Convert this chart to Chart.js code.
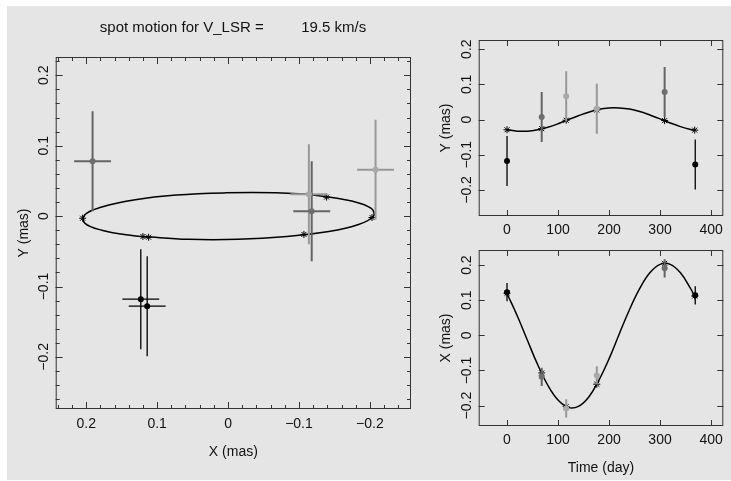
<!DOCTYPE html>
<html>
<head>
<meta charset="utf-8">
<script src="https://cdn.jsdelivr.net/npm/chart.js@4.4.1/dist/chart.umd.min.js"></script>
<style>
  html, body { margin: 0; padding: 0; background: #fff; }
  #sheet { position: absolute; left: 7px; top: 6px; width: 724px; height: 474px; background: #e5e5e5; }
  canvas { position: absolute; }
</style>
</head>
<body>
<div id="sheet"></div>
<canvas id="orbit" style="left:7px;top:6px" width="452" height="474"></canvas>
<canvas id="ytime" style="left:420px;top:6px" width="311" height="234"></canvas>
<canvas id="xtime" style="left:420px;top:240px" width="311" height="240"></canvas>
<script>
// observed spot positions (mas) and epochs (day)
const obsDay = [0, 68, 116, 176, 309, 369];
const obsX = [0.123, -0.118, -0.208, -0.114, 0.191, 0.114];
const obsY = [-0.118, 0.007, 0.066, 0.031, 0.078, -0.128];
const obsErrX = [0.026, 0.026, 0.026, 0.026, 0.026, 0.026];
const obsErrY = [0.071, 0.071, 0.071, 0.071, 0.071, 0.071];

// model positions at the epochs (asterisks)
const modelDay = [0, 68, 116, 176, 309, 368];
const modelX = [0.120, -0.107, -0.203, -0.139, 0.205, 0.112];
const modelY = [-0.029, -0.026, -0.002, 0.027, -0.003, -0.030];

// model track
const curveDay = [0, 20, 40, 60, 80, 100, 120, 140, 160, 180, 200, 220, 240, 260, 280, 300, 320, 340, 360, 368];
const curveX = [0.119, 0.056, -0.014, -0.083, -0.142, -0.184, -0.205, -0.202, -0.176, -0.128, -0.067, 0.004, 0.073, 0.133, 0.178, 0.202, 0.202, 0.178, 0.133, 0.111];
const curveY = [-0.029, -0.033, -0.033, -0.029, -0.022, -0.012, 0.000, 0.011, 0.021, 0.029, 0.033, 0.033, 0.030, 0.023, 0.013, 0.002, -0.010, -0.020, -0.028, -0.030];

const posTicks = [-0.2, -0.1, 0, 0.1, 0.2];
const dayTicks = [0, 100, 200, 300, 400];

// grey level per epoch: dots and their error bars
const dotShade = ['#000000', '#6e6e6e', '#a8a8a8', '#a8a8a8', '#6e6e6e', '#000000'];
const barShade = ['#000000', '#646464', '#989898', '#989898', '#646464', '#000000'];
const barWidth = [1.3, 2, 2, 2, 2, 1.3];

const ink = '#111';
const face = { family: 'Liberation Sans', size: 14 };
const fmt = v => v === 0 ? '0' : (v < 0 ? '\u2212' : '') + Math.abs(v).toFixed(1);
const pairs = (xs, ys) => xs.map((x, i) => ({ x, y: ys[i] }));

// box with inward tick marks on all four sides
const frame = {
  id: 'frame',
  afterDatasetsDraw(chart, args, o) {
    const { ctx, chartArea: a, scales } = chart;
    ctx.save();
    ctx.strokeStyle = '#333';
    ctx.lineWidth = 1;
    ctx.strokeRect(a.left + 0.5, a.top + 0.5, a.width - 1, a.height - 1);
    ctx.beginPath();
    const marks = (scale, step, len) => {
      if (!step) return;
      const lo = Math.min(scale.min, scale.max), hi = Math.max(scale.min, scale.max);
      for (let k = Math.ceil(lo / step - 1e-9); k * step <= hi + 1e-9; k++) {
        const p = Math.round(scale.getPixelForValue(k * step)) + 0.5;
        if (scale.isHorizontal()) {
          ctx.moveTo(p, a.bottom); ctx.lineTo(p, a.bottom - len);
          ctx.moveTo(p, a.top); ctx.lineTo(p, a.top + len);
        } else {
          ctx.moveTo(a.left, p); ctx.lineTo(a.left + len, p);
          ctx.moveTo(a.right, p); ctx.lineTo(a.right - len, p);
        }
      }
    };
    marks(scales.x, o.xMajor, o.majorLen);
    marks(scales.x, o.xMinor, o.minorLen);
    marks(scales.y, o.yMajor, o.majorLen);
    marks(scales.y, o.yMinor, o.minorLen);
    ctx.stroke();
    ctx.restore();
  }
};

function seg(data, color, width) {
  return { data, showLine: true, borderColor: color, borderWidth: width, pointRadius: 0 };
}

function bars(xs, ys, ex, ey) {
  const sets = [];
  xs.forEach((x, i) => {
    const c = barShade[i], w = barWidth[i];
    if (ey) sets.push(seg([{ x, y: ys[i] - ey[i] }, { x, y: ys[i] + ey[i] }], c, w));
    if (ex) sets.push(seg([{ x: x - ex[i], y: ys[i] }, { x: x + ex[i], y: ys[i] }], c, w));
  });
  return sets;
}

function datasets(xs, ys, ex, ey, mx, my, cx, cy) {
  return [
    { data: pairs(xs, ys), pointRadius: 3, pointBackgroundColor: dotShade, pointBorderWidth: 0 },
    ...bars(xs, ys, ex, ey),
    { data: pairs(mx, my), pointStyle: 'star', pointRadius: 3.5, pointBorderColor: '#000', pointBorderWidth: 1 },
    { data: pairs(cx, cy), showLine: true, tension: 0.4, borderColor: '#000', borderWidth: 1.5, pointRadius: 0 }
  ];
}

function xAxis(min, max, ticks, opts) {
  return {
    type: 'linear', position: 'bottom', min, max, reverse: !!opts.reverse,
    grid: { display: false }, border: { display: false },
    afterBuildTicks: s => { s.ticks = ticks.map(v => ({ value: v })); },
    afterFit: s => { s.height = opts.height; },
    ticks: { color: ink, font: face, padding: opts.pad, autoSkip: false, maxRotation: 0, callback: opts.fmt },
    title: { display: !!opts.title, text: opts.title, color: ink, font: face, padding: { top: 0, bottom: opts.titlePad } }
  };
}

function yAxis(min, max, ticks, opts) {
  return {
    type: 'linear', position: 'left', min, max,
    grid: { display: false }, border: { display: false },
    afterBuildTicks: s => { s.ticks = ticks.map(v => ({ value: v })); },
    afterFit: s => { s.width = opts.width; },
    ticks: { color: ink, font: face, padding: -10, autoSkip: false, minRotation: 90, maxRotation: 90, crossAlign: 'center', callback: fmt },
    title: { display: true, text: opts.title, color: ink, font: face, padding: { top: opts.titlePad, bottom: 0 } }
  };
}

// empty right-hand axis that only reserves the margin, so the title centres on the box
const spacer = width => ({
  type: 'linear', position: 'right', display: true,
  grid: { display: false }, border: { display: false },
  ticks: { display: false },
  afterFit: s => { s.width = width; }
});

const common = {
  responsive: false,
  animation: false,
  events: []
};

new Chart(document.getElementById('orbit'), {
  type: 'scatter',
  data: { datasets: datasets(obsX, obsY, obsErrX, obsErrY, modelX, modelY, curveX, curveY) },
  options: {
    ...common,
    layout: { padding: 0 },
    scales: {
      x: xAxis(-0.258, 0.243, posTicks, { reverse: true, height: 71, pad: -1.5, fmt, title: 'X (mas)', titlePad: 19 }),
      y: yAxis(-0.274, 0.226, posTicks, { width: 48.7, title: 'Y (mas)', titlePad: 9 }),
      margin: spacer(48)
    },
    plugins: {
      legend: { display: false },
      tooltip: { enabled: false },
      title: {
        display: true,
        text: 'spot motion for V_LSR =         19.5 km/s',
        color: ink,
        font: { family: 'Liberation Sans', size: 15, weight: 'normal' },
        padding: { top: 13, bottom: 20 }
      },
      frame: { xMajor: 0.1, xMinor: 0.02, yMajor: 0.1, yMinor: 0.02, majorLen: 7, minorLen: 4 }
    }
  },
  plugins: [frame]
});

new Chart(document.getElementById('ytime'), {
  type: 'scatter',
  data: { datasets: datasets(obsDay, obsY, null, obsErrY, modelDay, modelY, curveDay, curveY) },
  options: {
    ...common,
    layout: { padding: { left: 0, right: 7.7, top: 34, bottom: 0 } },
    scales: {
      x: xAxis(-55.5, 424, dayTicks, { height: 24, pad: -2, fmt: v => String(v), title: '', titlePad: 0 }),
      y: yAxis(-0.274, 0.226, posTicks, { width: 58.7, title: 'Y (mas)', titlePad: 18 })
    },
    plugins: {
      legend: { display: false },
      tooltip: { enabled: false },
      frame: { xMajor: 100, yMajor: 0.1, majorLen: 6, minorLen: 0 }
    }
  },
  plugins: [frame]
});

new Chart(document.getElementById('xtime'), {
  type: 'scatter',
  data: { datasets: datasets(obsDay, obsX, null, obsErrX, modelDay, modelX, curveDay, curveX) },
  options: {
    ...common,
    layout: { padding: { left: 0, right: 7.7, top: 10, bottom: 0 } },
    scales: {
      x: xAxis(-55.5, 424, dayTicks, { height: 54, pad: -2, fmt: v => String(v), title: 'Time (day)', titlePad: 3 }),
      y: yAxis(-0.258, 0.243, posTicks, { width: 58.7, title: 'X (mas)', titlePad: 18 })
    },
    plugins: {
      legend: { display: false },
      tooltip: { enabled: false },
      frame: { xMajor: 100, yMajor: 0.1, majorLen: 6, minorLen: 0 }
    }
  },
  plugins: [frame]
});
</script>
</body>
</html>
